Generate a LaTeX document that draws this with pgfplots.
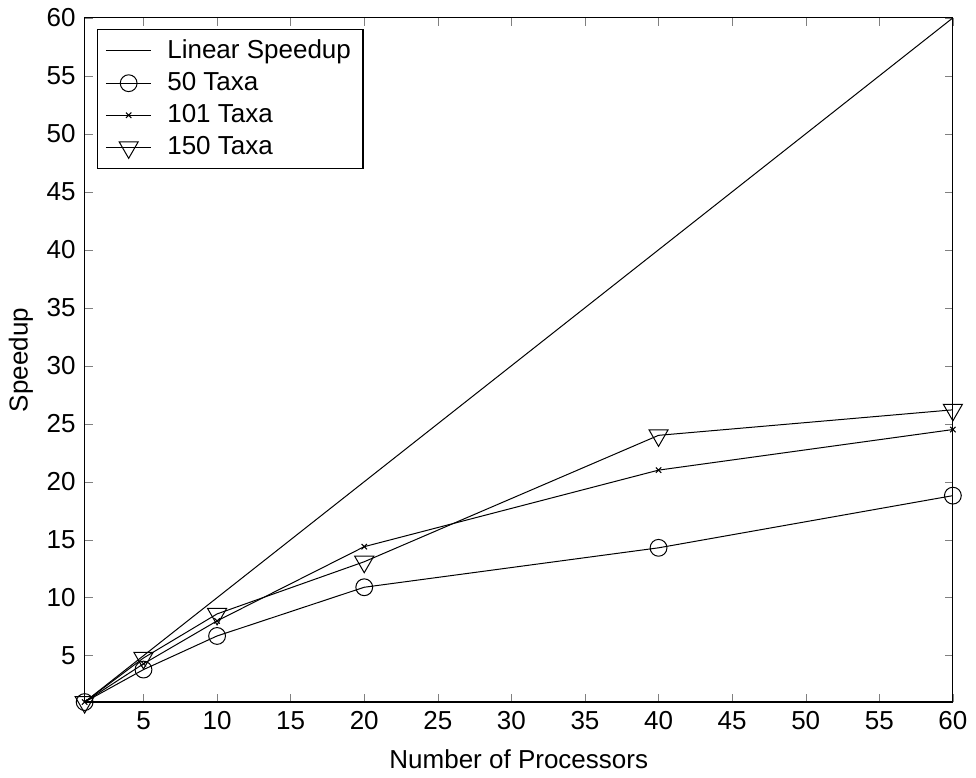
\documentclass[border=0pt]{standalone}
\usepackage{fontspec}
\setmainfont{Liberation Sans}
\usepackage{pgfplots}
\pgfplotsset{compat=1.18}

\begin{document}
\fontsize{13}{15}\selectfont
\begin{tikzpicture}
    \begin{axis}[
        scale only axis,
        width=434pt, height=342pt,
        xmin=1, xmax=60, ymin=1, ymax=60,
        xtick={5,10,...,60},
        ytick={5,10,...,60},
        tick align=inside,
        major tick length=4pt,
        xlabel={Number of Processors},
        ylabel={Speedup},
        xlabel style={yshift=-1pt},
        ylabel style={yshift=-2pt},
        /pgf/number format/assume math mode=true,
        ticklabel style={font=\fontsize{13}{15}\selectfont},
        label style={font=\fontsize{13}{15}\selectfont},
        every axis plot/.append style={black, line width=0.5pt},
        axis line style={line width=0.6pt},
        legend cell align=left,
        legend style={at={(0.014,0.984)}, anchor=north west, draw=black,
            line width=0.6pt, font=\fontsize{13}{15}\selectfont,
            inner xsep=4pt, inner ysep=3pt, row sep=1pt},
        legend image code/.code={
            \draw[mark repeat=2,mark phase=2] plot coordinates {(0.1cm,0cm) (0.5cm,0cm) (0.9cm,0cm)};
            \path (1.1cm,0cm);
        },
    ]
    \addplot[no marks] coordinates {(1,1) (60,60)};
    \addlegendentry{Linear Speedup}
    \addplot[mark=o, mark size=4.2pt] coordinates {
        (1,1) (5,3.8) (10,6.7) (20,10.9) (40,14.3) (60,18.8)};
    \addlegendentry{50 Taxa}
    \addplot[mark=x, mark size=1.9pt] coordinates {
        (1,1) (5,4.3) (10,8.0) (20,14.4) (40,21.0) (60,24.5)};
    \addlegendentry{101 Taxa}
    \addplot[mark=triangle, mark size=5.5pt, mark options={rotate=180}] coordinates {
        (1,1) (5,4.8) (10,8.6) (20,13.1) (40,24.0) (60,26.2)};
    \addlegendentry{150 Taxa}
    \end{axis}
\end{tikzpicture}
\end{document}
